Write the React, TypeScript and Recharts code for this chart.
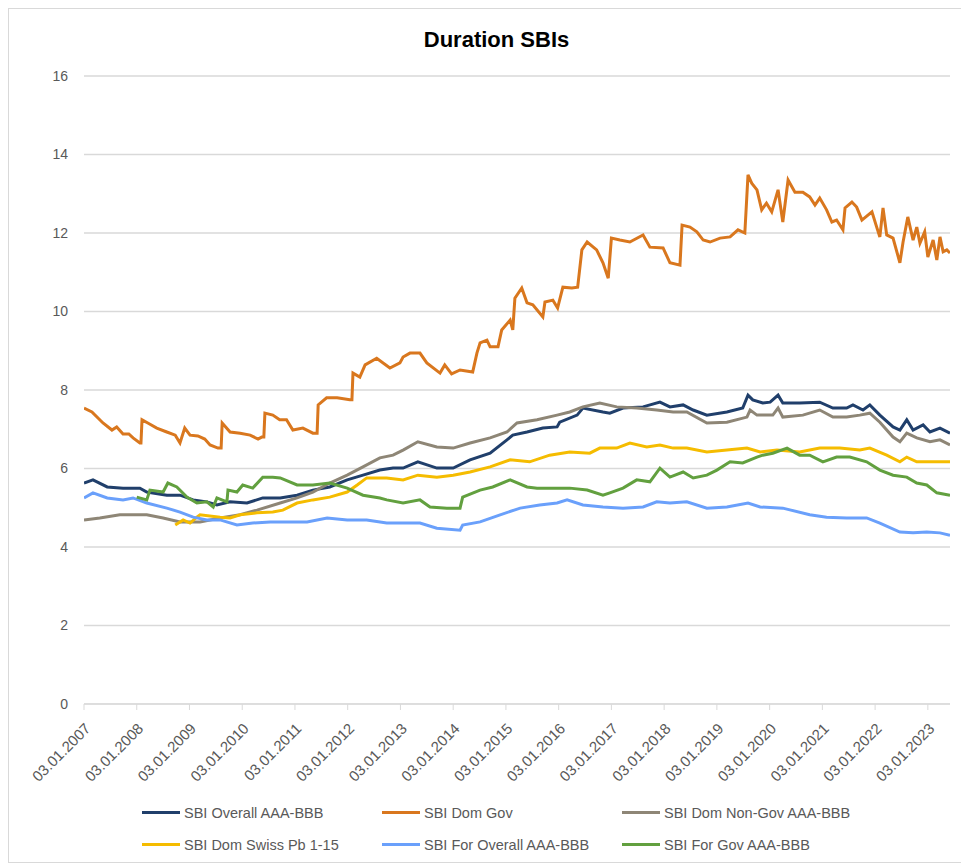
import React from "react";
import {
  LineChart,
  Line,
  XAxis,
  YAxis,
  CartesianGrid,
} from "recharts";

// x values are decimal years
const tickYears = [
  2007, 2008, 2009, 2010, 2011, 2012, 2013, 2014, 2015, 2016, 2017, 2018,
  2019, 2020, 2021, 2022, 2023,
];
const yTicks = [0, 2, 4, 6, 8, 10, 12, 14, 16];

const overallT = [
  2007.0, 2007.17, 2007.44, 2007.74, 2008.06, 2008.19, 2008.57, 2008.82,
  2009.07, 2009.33, 2009.52, 2009.77, 2010.09, 2010.39, 2010.72, 2011.04,
  2011.34, 2011.66, 2011.99, 2012.29, 2012.61, 2012.86, 2013.05, 2013.33,
  2013.69, 2014.0, 2014.32, 2014.7, 2015.02, 2015.13, 2015.4, 2015.7,
  2015.97, 2016.02, 2016.35, 2016.46, 2016.84, 2016.97, 2017.22, 2017.6,
  2017.92, 2018.11, 2018.36, 2018.55, 2018.81, 2019.19, 2019.49, 2019.59,
  2019.68, 2019.87, 2020.01, 2020.16, 2020.25, 2020.57, 2020.95, 2021.2,
  2021.46, 2021.58, 2021.77, 2021.9, 2022.09, 2022.34, 2022.47, 2022.6,
  2022.72, 2022.91, 2023.04, 2023.23, 2023.42,
];
const overallV = [
  5.63, 5.71, 5.53, 5.5, 5.5, 5.4, 5.32, 5.32, 5.2, 5.15, 5.07, 5.15, 5.12,
  5.25, 5.25, 5.32, 5.45, 5.53, 5.71, 5.83, 5.96, 6.01, 6.01, 6.17, 6.01,
  6.01, 6.22, 6.39, 6.73, 6.85, 6.93, 7.03, 7.06, 7.18, 7.36, 7.54, 7.44,
  7.41, 7.54, 7.57, 7.69, 7.57, 7.62, 7.49, 7.36, 7.44, 7.54, 7.87, 7.75,
  7.67, 7.69, 7.87, 7.67, 7.67, 7.69, 7.54, 7.54, 7.62, 7.49, 7.62, 7.36,
  7.06, 6.98, 7.24, 6.98, 7.11, 6.93, 7.03, 6.9,
];

const domGovT = [
  2007.0, 2007.15, 2007.36, 2007.53, 2007.62, 2007.74, 2007.85, 2007.93,
  2008.06, 2008.08, 2008.1, 2008.21, 2008.38, 2008.57, 2008.73, 2008.82,
  2008.91, 2009.01, 2009.16, 2009.29, 2009.39, 2009.54, 2009.6, 2009.62,
  2009.77, 2009.96, 2010.15, 2010.3, 2010.37, 2010.41, 2010.43, 2010.58,
  2010.71, 2010.84, 2010.96, 2011.15, 2011.34, 2011.42, 2011.44, 2011.6,
  2011.8, 2012.04, 2012.08, 2012.1, 2012.23, 2012.33, 2012.55, 2012.8,
  2012.99, 2013.05, 2013.18, 2013.37, 2013.5, 2013.75, 2013.84, 2013.97,
  2014.13, 2014.37, 2014.45, 2014.51, 2014.64, 2014.7, 2014.85, 2014.92,
  2015.08, 2015.13, 2015.17, 2015.3, 2015.4, 2015.51, 2015.7, 2015.74,
  2015.89, 2015.98, 2016.08, 2016.25, 2016.36, 2016.44, 2016.54, 2016.72,
  2016.84, 2016.94, 2017.0, 2017.16, 2017.35, 2017.6, 2017.73, 2017.98,
  2018.11, 2018.3, 2018.34, 2018.49, 2018.62, 2018.74, 2018.87, 2019.06,
  2019.25, 2019.4, 2019.53, 2019.59, 2019.66, 2019.76, 2019.85, 2019.94,
  2020.04, 2020.16, 2020.25, 2020.35, 2020.48, 2020.63, 2020.76, 2020.86,
  2020.95, 2021.08, 2021.18, 2021.27, 2021.39, 2021.43, 2021.56, 2021.65,
  2021.75, 2021.94, 2022.03, 2022.09, 2022.15, 2022.22, 2022.34, 2022.47,
  2022.53, 2022.62, 2022.72, 2022.79, 2022.85, 2022.94, 2023.0, 2023.1,
  2023.17, 2023.23, 2023.29, 2023.36, 2023.42,
];
const domGovV = [
  7.54, 7.44, 7.16, 6.98, 7.06, 6.88, 6.88, 6.78, 6.65, 6.65, 7.24, 7.16,
  7.03, 6.93, 6.85, 6.65, 7.03, 6.85, 6.83, 6.75, 6.6, 6.52, 6.52, 7.16,
  6.93, 6.9, 6.85, 6.75, 6.8, 6.8, 7.41, 7.36, 7.24, 7.24, 6.98, 7.03, 6.9,
  6.9, 7.62, 7.8, 7.8, 7.75, 7.75, 8.43, 8.33, 8.64, 8.81, 8.56, 8.69, 8.84,
  8.94, 8.94, 8.69, 8.43, 8.64, 8.41, 8.51, 8.46, 8.94, 9.2, 9.27, 9.1, 9.1,
  9.53, 9.78, 9.53, 10.34, 10.6, 10.22, 10.17, 9.86, 10.24, 10.29, 10.09,
  10.62, 10.6, 10.62, 11.57, 11.77, 11.57, 11.24, 10.85, 11.87, 11.82,
  11.77, 11.95, 11.64, 11.62, 11.24, 11.18, 12.2, 12.15, 12.03, 11.82,
  11.77, 11.87, 11.9, 12.08, 12.0, 13.48, 13.27, 13.1, 12.59, 12.76, 12.54,
  13.1, 12.28, 13.35, 13.04, 13.04, 12.92, 12.71, 12.89, 12.59, 12.28,
  12.33, 12.08, 12.64, 12.79, 12.66, 12.33, 12.54, 12.15, 11.9, 12.64,
  11.95, 11.87, 11.24, 11.77, 12.41, 11.82, 12.15, 11.74, 12.03, 11.39,
  11.82, 11.31, 11.9, 11.52, 11.57, 11.49,
];

const nonGovT = [
  2007.0, 2007.3, 2007.68, 2008.19, 2008.5, 2008.82, 2009.2, 2009.58,
  2009.96, 2010.28, 2010.72, 2011.04, 2011.34, 2011.66, 2011.99, 2012.29,
  2012.61, 2012.86, 2013.05, 2013.33, 2013.69, 2014.0, 2014.32, 2014.7,
  2015.02, 2015.21, 2015.59, 2015.97, 2016.21, 2016.46, 2016.78, 2017.1,
  2017.48, 2017.86, 2018.17, 2018.43, 2018.81, 2019.19, 2019.57, 2019.63,
  2019.76, 2020.06, 2020.16, 2020.25, 2020.63, 2020.95, 2021.2, 2021.46,
  2021.71, 2021.9, 2022.09, 2022.34, 2022.47, 2022.6, 2022.79, 2023.04,
  2023.23, 2023.42,
];
const nonGovV = [
  4.69, 4.74, 4.82, 4.82, 4.74, 4.64, 4.64, 4.74, 4.82, 4.94, 5.12, 5.25,
  5.4, 5.63, 5.83, 6.04, 6.27, 6.34, 6.47, 6.68, 6.55, 6.52, 6.65, 6.78,
  6.93, 7.16, 7.24, 7.36, 7.44, 7.57, 7.67, 7.57, 7.54, 7.49, 7.44, 7.44,
  7.16, 7.18, 7.31, 7.49, 7.36, 7.36, 7.54, 7.31, 7.36, 7.49, 7.31, 7.31,
  7.36, 7.41, 7.18, 6.8, 6.68, 6.9, 6.78, 6.68, 6.73, 6.6,
];

const swissPbT = [
  2008.73, 2008.88, 2009.01, 2009.14, 2009.2, 2009.58, 2009.77, 2009.96,
  2010.28, 2010.58, 2010.77, 2011.04, 2011.34, 2011.66, 2011.99, 2012.18,
  2012.36, 2012.74, 2013.05, 2013.33, 2013.69, 2014.0, 2014.32, 2014.7,
  2015.08, 2015.45, 2015.83, 2016.21, 2016.59, 2016.78, 2017.1, 2017.35,
  2017.67, 2017.92, 2018.17, 2018.43, 2018.81, 2019.19, 2019.57, 2019.82,
  2020.14, 2020.57, 2020.95, 2021.33, 2021.71, 2021.9, 2022.22, 2022.47,
  2022.6, 2022.79, 2023.04, 2023.42,
];
const swissPbV = [
  4.56, 4.69, 4.61, 4.76, 4.82, 4.76, 4.74, 4.82, 4.87, 4.89, 4.94, 5.12,
  5.2, 5.27, 5.4, 5.58, 5.76, 5.76, 5.71, 5.83, 5.78, 5.83, 5.91, 6.04,
  6.22, 6.17, 6.34, 6.42, 6.39, 6.52, 6.52, 6.65, 6.55, 6.6, 6.52, 6.52,
  6.42, 6.47, 6.52, 6.42, 6.47, 6.42, 6.52, 6.52, 6.47, 6.52, 6.34, 6.17,
  6.29, 6.17, 6.17, 6.17,
];

const forOverallT = [
  2007.0, 2007.17, 2007.44, 2007.74, 2007.93, 2008.19, 2008.57, 2008.82,
  2009.07, 2009.33, 2009.58, 2009.9, 2010.2, 2010.53, 2010.85, 2011.23,
  2011.61, 2011.99, 2012.36, 2012.74, 2013.05, 2013.37, 2013.69, 2014.13,
  2014.18, 2014.51, 2014.89, 2015.27, 2015.64, 2015.97, 2016.16, 2016.46,
  2016.84, 2017.22, 2017.6, 2017.86, 2018.11, 2018.43, 2018.81, 2019.19,
  2019.59, 2019.82, 2020.25, 2020.76, 2021.08, 2021.46, 2021.84, 2022.09,
  2022.47, 2022.72, 2022.98, 2023.23, 2023.42,
];
const forOverallV = [
  5.25, 5.38, 5.25, 5.2, 5.25, 5.12, 4.99, 4.89, 4.76, 4.69, 4.69, 4.56,
  4.61, 4.64, 4.64, 4.64, 4.74, 4.69, 4.69, 4.61, 4.61, 4.61, 4.48, 4.43,
  4.56, 4.64, 4.82, 4.99, 5.07, 5.12, 5.2, 5.07, 5.02, 4.99, 5.02, 5.15,
  5.12, 5.15, 4.99, 5.02, 5.12, 5.02, 4.99, 4.82, 4.76, 4.74, 4.74, 4.61,
  4.38, 4.36, 4.38, 4.36, 4.3,
];

const forGovT = [
  2008.0, 2008.19, 2008.25, 2008.5, 2008.59, 2008.76, 2008.95, 2009.14,
  2009.33, 2009.45, 2009.52, 2009.71, 2009.73, 2009.9, 2010.01, 2010.2,
  2010.39, 2010.58, 2010.72, 2011.04, 2011.34, 2011.66, 2011.99, 2012.29,
  2012.61, 2012.74, 2013.05, 2013.37, 2013.56, 2013.88, 2014.13, 2014.18,
  2014.51, 2014.75, 2015.08, 2015.4, 2015.59, 2015.89, 2016.21, 2016.54,
  2016.84, 2016.97, 2017.22, 2017.48, 2017.73, 2017.92, 2018.11, 2018.36,
  2018.55, 2018.81, 2019.0, 2019.25, 2019.49, 2019.76, 2019.87, 2020.06,
  2020.33, 2020.57, 2020.76, 2021.01, 2021.27, 2021.52, 2021.84, 2022.09,
  2022.34, 2022.6, 2022.79, 2022.98, 2023.17, 2023.42,
];
const forGovV = [
  5.27, 5.2, 5.45, 5.4, 5.63, 5.53, 5.27, 5.12, 5.15, 5.02, 5.25, 5.15,
  5.45, 5.4, 5.58, 5.5, 5.78, 5.78, 5.76, 5.58, 5.58, 5.63, 5.5, 5.32,
  5.25, 5.2, 5.12, 5.2, 5.02, 4.99, 4.99, 5.27, 5.45, 5.53, 5.71, 5.53,
  5.5, 5.5, 5.5, 5.45, 5.32, 5.38, 5.5, 5.71, 5.66, 6.01, 5.78, 5.91, 5.76,
  5.83, 5.96, 6.17, 6.14, 6.29, 6.34, 6.39, 6.52, 6.34, 6.34, 6.17, 6.29,
  6.29, 6.17, 5.96, 5.83, 5.78, 5.63, 5.58, 5.38, 5.32,
];

const pts = (t: number[], v: number[]) => t.map((x, i) => ({ t: x, v: v[i] }));

const series = [
  { name: "SBI Overall AAA-BBB", color: "#203f6b", data: pts(overallT, overallV) },
  { name: "SBI Dom Gov", color: "#d9771e", data: pts(domGovT, domGovV) },
  { name: "SBI Dom Non-Gov AAA-BBB", color: "#8e8676", data: pts(nonGovT, nonGovV) },
  { name: "SBI Dom Swiss Pb 1-15", color: "#f5bc00", data: pts(swissPbT, swissPbV) },
  { name: "SBI For Overall AAA-BBB", color: "#6aa0fb", data: pts(forOverallT, forOverallV) },
  { name: "SBI For Gov AAA-BBB", color: "#62a03f", data: pts(forGovT, forGovV) },
];

const font = "'Liberation Sans', Arial, sans-serif";

export default function App() {
  return (
    <div
      style={{
        position: "relative",
        width: 953,
        height: 853,
        border: "1px solid #d9d9d9",
        background: "#fff",
        fontFamily: font,
      }}
    >
      <div
        style={{
          position: "absolute",
          left: 0,
          width: 975,
          top: 18,
          textAlign: "center",
          fontSize: 22,
          fontWeight: "bold",
          color: "#000",
        }}
      >
        Duration SBIs
      </div>
      <LineChart
        width={953}
        height={853}
        margin={{ top: 67, right: 12, left: 15, bottom: 98 }}
      >
        <CartesianGrid vertical={false} stroke="#d9d9d9" strokeWidth={1.3} />
        <XAxis
          type="number"
          dataKey="t"
          domain={[2007, 2023.42]}
          allowDataOverflow
          ticks={tickYears}
          tickFormatter={(y: number) => `03.01.${y}`}
          height={60}
          angle={-45}
          textAnchor="end"
          tickSize={6}
          tickMargin={12}
          stroke="#d9d9d9"
          tick={{ fill: "#595959", fontSize: 15, fontFamily: font }}
        />
        <YAxis
          domain={[0, 16]}
          ticks={yTicks}
          width={60}
          axisLine={false}
          tickLine={false}
          tickSize={6}
          tickMargin={10}
          tick={{ fill: "#595959", fontSize: 14, fontFamily: font }}
        />
        {series.map((s) => (
          <Line
            key={s.name}
            data={s.data}
            dataKey="v"
            name={s.name}
            stroke={s.color}
            strokeWidth={3}
            dot={false}
            type="linear"
            isAnimationActive={false}
          />
        ))}
      </LineChart>
      <div
        style={{
          position: "absolute",
          left: 133,
          top: 794,
          display: "grid",
          gridTemplateColumns: "240px 240px 240px",
          rowGap: 13,
          fontSize: 14.5,
          color: "#595959",
        }}
      >
        {series.map((s) => (
          <div key={s.name} style={{ display: "flex", alignItems: "center", height: 19 }}>
            <span
              style={{
                display: "inline-block",
                width: 38,
                height: 3,
                background: s.color,
                marginRight: 4,
              }}
            />
            {s.name}
          </div>
        ))}
      </div>
    </div>
  );
}
